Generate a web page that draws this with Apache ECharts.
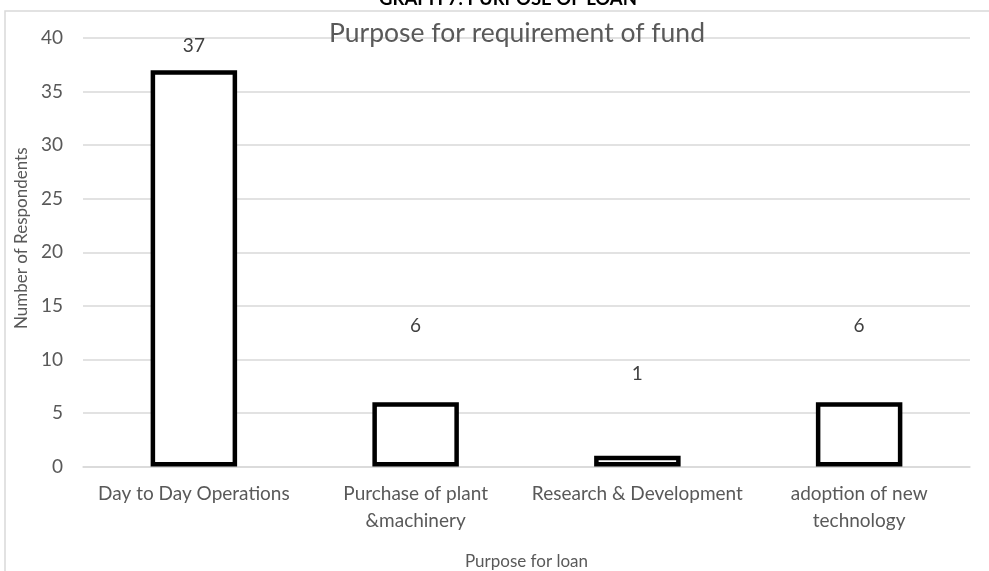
<!DOCTYPE html>
<html>
<head>
<meta charset="utf-8">
<script src="https://cdn.jsdelivr.net/npm/echarts@6/dist/echarts.min.js"></script>
<style>
  html, body { margin: 0; padding: 0; background: #ffffff; }
  #chart { width: 989px; height: 571px; }
</style>
</head>
<body>
<div id="chart"></div>
<script>
// Survey results: purpose for which respondents required the loan
const categories = [
  'Day to Day Operations',
  'Purchase of plant\n&machinery',
  'Research & Development',
  'adoption of new\ntechnology'
];
const respondents = [37, 6, 1, 6];
const yTicks = [0, 5, 10, 15, 20, 25, 30, 35, 40];

const FONT = 'Lato, "Noto Sans", sans-serif';
// how far above each bar its value label sits (px)
const labelLift = [15, 67, 72, 67];

const chart = echarts.init(document.getElementById('chart'), null, { renderer: 'canvas' });

chart.setOption({
  backgroundColor: '#ffffff',
  animation: false,
  graphic: [
    {
      type: 'rect',
      silent: true,
      shape: { x: 5, y: 11, width: 1100, height: 700 },
      style: { fill: 'none', stroke: '#d9d9d9', lineWidth: 1.5 }
    }
  ],
  title: [
    {
      text: 'GRAPH 7: PURPOSE OF LOAN',
      left: 503,
      top: -15,
      textAlign: 'center',
      textStyle: { fontFamily: FONT, fontSize: 18.5, fontWeight: 'bold', color: '#000000' }
    },
    {
      text: 'Purpose for requirement of fund',
      left: 512,
      top: 15,
      textAlign: 'center',
      textStyle: { fontFamily: FONT, fontSize: 26.5, fontWeight: 'normal', color: '#595959' }
    }
  ],
  grid: { left: 83, right: 19, top: 38, bottom: 104.5, outerBoundsMode: 'none', containLabel: false },
  xAxis: {
    type: 'category',
    data: categories,
    name: 'Purpose for loan',
    nameLocation: 'middle',
    nameGap: 87,
    nameTextStyle: { fontFamily: FONT, fontSize: 17, color: '#595959' },
    axisLine: { show: true, lineStyle: { color: '#d9d9d9', width: 1.5 } },
    axisTick: { show: false },
    axisLabel: {
      interval: 0,
      margin: 14,
      fontFamily: FONT,
      fontSize: 19,
      lineHeight: 27,
      color: '#595959'
    }
  },
  yAxis: {
    type: 'value',
    min: yTicks[0],
    max: yTicks[yTicks.length - 1],
    interval: yTicks[1] - yTicks[0],
    name: 'Number of Respondents',
    nameLocation: 'middle',
    nameGap: 47,
    nameRotate: 90,
    nameTextStyle: { fontFamily: FONT, fontSize: 17, color: '#595959', padding: [0, 0, 0, 28] },
    axisLine: { show: false },
    axisTick: { show: false },
    axisLabel: { margin: 20, fontFamily: FONT, fontSize: 19, color: '#595959' },
    splitLine: { show: true, lineStyle: { color: '#d9d9d9', width: 1.5 } }
  },
  series: [
    {
      type: 'bar',
      barWidth: '39%',
      itemStyle: { color: '#ffffff', borderColor: '#000000', borderWidth: 4.5 },
      data: respondents.map((v, i) => ({
        value: v,
        label: {
          show: true,
          position: 'top',
          distance: labelLift[i],
          fontFamily: FONT,
          fontSize: 19,
          color: '#404040'
        }
      }))
    }
  ]
});
</script>
</body>
</html>
